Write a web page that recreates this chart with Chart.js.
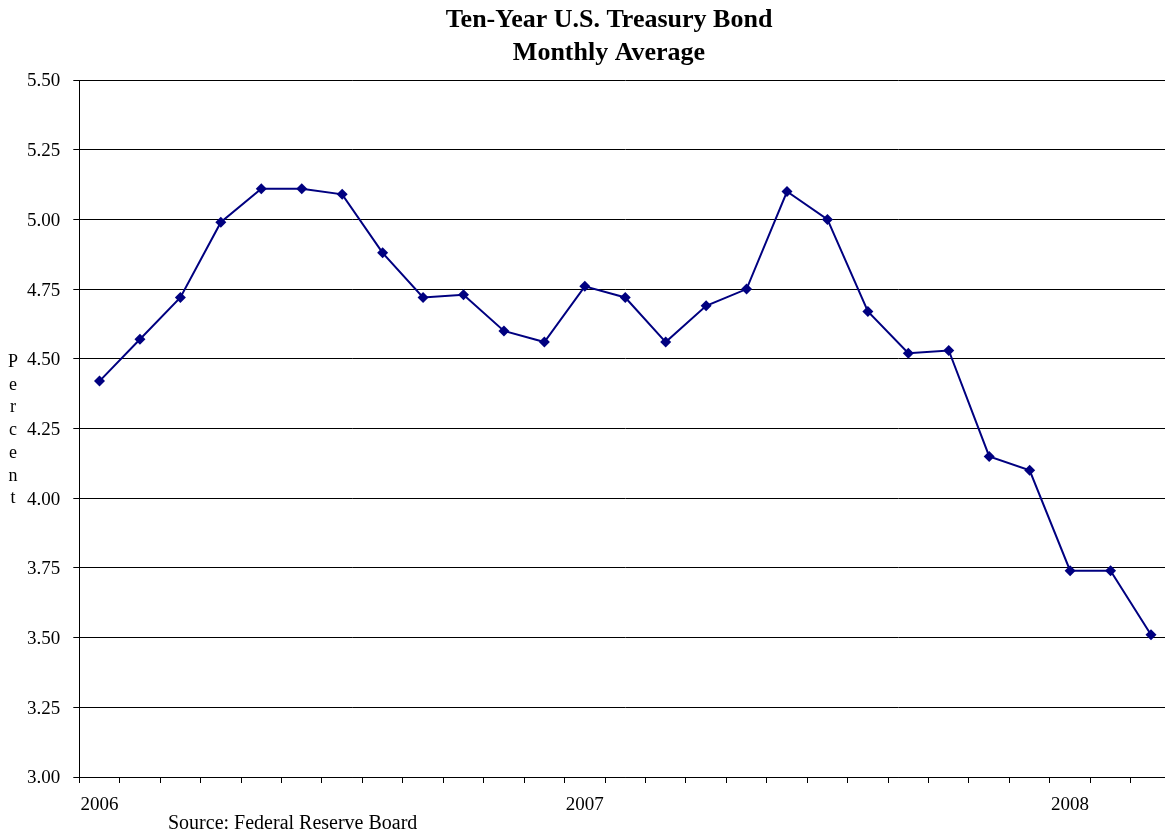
<!DOCTYPE html>
<html>
<head>
<meta charset="utf-8">
<title>Ten-Year U.S. Treasury Bond</title>
<script src="https://cdn.jsdelivr.net/npm/chart.js@4.4.1/dist/chart.umd.min.js"></script>
<style>
  html, body { margin: 0; padding: 0; background: #fff; overflow: hidden; }
  #wrap { width: 1200px; height: 836px; }
</style>
</head>
<body>
<div id="wrap"><canvas id="bond" width="1200" height="836"></canvas></div>
<script>
// Ten-year Treasury constant maturity, monthly average yield (percent)
const months = [
  'Jan 2006', 'Feb 2006', 'Mar 2006', 'Apr 2006', 'May 2006', 'Jun 2006',
  'Jul 2006', 'Aug 2006', 'Sep 2006', 'Oct 2006', 'Nov 2006', 'Dec 2006',
  'Jan 2007', 'Feb 2007', 'Mar 2007', 'Apr 2007', 'May 2007', 'Jun 2007',
  'Jul 2007', 'Aug 2007', 'Sep 2007', 'Oct 2007', 'Nov 2007', 'Dec 2007',
  'Jan 2008', 'Feb 2008', 'Mar 2008'
];
const yieldPct = [
  4.42, 4.57, 4.72, 4.99, 5.11, 5.11, 5.09, 4.88, 4.72, 4.73, 4.60, 4.56,
  4.76, 4.72, 4.56, 4.69, 4.75, 5.10, 5.00, 4.67, 4.52, 4.53, 4.15, 4.10,
  3.74, 3.74, 3.51
];
// only January gets a label on the x axis
const yearLabels = { 'Jan 2006': '2006', 'Jan 2007': '2007', 'Jan 2008': '2008' };
const yMin = 3.00, yMax = 5.50, yStep = 0.25;

const titleLines = ['Ten-Year U.S. Treasury Bond', 'Monthly Average'];
const axisWord = 'Percent';
const sourceNote = 'Source: Federal Reserve Board';

const NAVY = '#000080';
const SERIF = '"Liberation Serif", "Times New Roman", serif';

// two-line title, stacked "Percent" on the left, source line underneath
const sideText = {
  id: 'sideText',
  afterDraw(chart) {
    const ctx = chart.ctx;
    ctx.save();
    ctx.fillStyle = '#000';
    ctx.textBaseline = 'alphabetic';
    ctx.textAlign = 'center';
    ctx.font = 'bold 26px ' + SERIF;
    titleLines.forEach((line, i) => ctx.fillText(line, 609, 27 + i * 33));
    ctx.font = '18px ' + SERIF;
    axisWord.split('').forEach((ch, i) => ctx.fillText(ch, 13, 367 + i * 22.7));
    ctx.textAlign = 'left';
    ctx.font = '20px ' + SERIF;
    ctx.fillText(sourceNote, 168, 829);
    ctx.restore();
  }
};

new Chart(document.getElementById('bond'), {
  type: 'line',
  data: {
    labels: months,
    datasets: [{
      data: yieldPct,
      borderColor: NAVY,
      borderWidth: 2,
      backgroundColor: NAVY,
      pointStyle: 'rectRot',
      pointRadius: 5.5,
      pointBorderWidth: 0,
      pointBackgroundColor: NAVY,
      tension: 0,
      clip: false
    }]
  },
  options: {
    responsive: false,
    devicePixelRatio: 1,
    animation: false,
    layout: { padding: { left: 0, right: 28.8, top: 80, bottom: 0 } },
    plugins: {
      legend: { display: false },
      tooltip: { enabled: false },
      title: { display: false }
    },
    scales: {
      x: {
        offset: true,
        grid: { offset: true, drawOnChartArea: false, drawTicks: true, tickLength: 6, color: '#000' },
        border: { display: true, color: '#000', width: 1 },
        ticks: {
          autoSkip: false,
          maxRotation: 0,
          padding: 11,
          color: '#000',
          font: { family: SERIF, size: 19 },
          callback: (v, i) => yearLabels[months[i]] || ''
        },
        afterFit: (scale) => { scale.height = 59; }
      },
      y: {
        min: yMin,
        max: yMax,
        grid: { color: '#000', lineWidth: 1, tickLength: 6 },
        border: { display: true, color: '#000', width: 1 },
        ticks: {
          stepSize: yStep,
          padding: 13,
          labelOffset: 1.5,
          color: '#000',
          font: { family: SERIF, size: 19 },
          callback: (v) => v.toFixed(2)
        },
        afterFit: (scale) => { scale.width = 79.3; }
      }
    }
  },
  plugins: [sideText]
});
</script>
</body>
</html>
